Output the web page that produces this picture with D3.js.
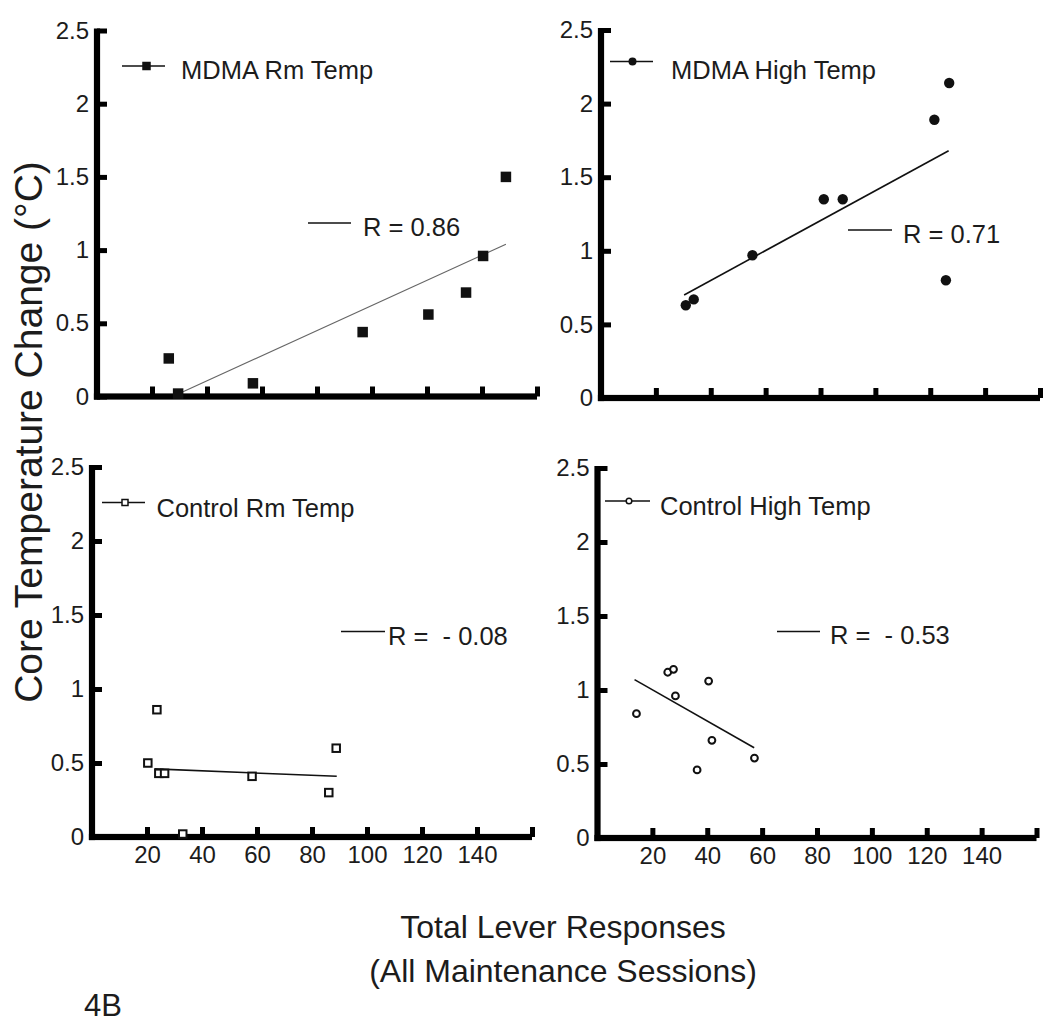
<!DOCTYPE html>
<html><head><meta charset="utf-8">
<script src="https://cdn.jsdelivr.net/npm/d3@7"></script>
<style>
body{margin:0;background:#fff}
text{font-family:"Liberation Sans",Arial,Helvetica,sans-serif;fill:#1c1c1c}
</style>
</head><body>
<svg id="c" width="1050" height="1023"></svg>
<script>
// ---------- data ----------
const xTicks = [20, 40, 60, 80, 100, 120, 140, 160];
const xTickLabels = ["20", "40", "60", "80", "100", "120", "140", ""];
const yTicks = [0, 0.5, 1, 1.5, 2, 2.5];
const yTickLabels = ["0", "0.5", "1", "1.5", "2", "2.5"];

const mdmaRmX = [26.1, 29.5, 56.7, 96.6, 120.5, 134.2, 140.4, 148.7];
const mdmaRmY = [0.26, 0.02, 0.09, 0.44, 0.56, 0.71, 0.96, 1.50];
const mdmaRmFitX = [28.7, 148.7];
const mdmaRmFitY = [0.01, 1.04];

const mdmaHighX = [30.9, 33.8, 55.2, 81.2, 88.1, 121.5, 126.9, 125.7];
const mdmaHighY = [0.63, 0.67, 0.97, 1.35, 1.35, 1.89, 2.14, 0.80];
const mdmaHighFitX = [30.3, 126.7];
const mdmaHighFitY = [0.70, 1.68];

const ctrlRmX = [20.3, 23.6, 24.3, 26.4, 33.0, 58.2, 86.1, 88.8];
const ctrlRmY = [0.50, 0.86, 0.43, 0.43, 0.02, 0.41, 0.30, 0.60];
const ctrlRmFitX = [22.7, 89.0];
const ctrlRmFitY = [0.46, 0.41];

const ctrlHighX = [14.2, 25.6, 27.7, 28.4, 40.5, 41.7, 36.3, 57.2];
const ctrlHighY = [0.84, 1.12, 1.14, 0.96, 1.06, 0.66, 0.46, 0.54];
const ctrlHighFitX = [13.5, 57.1];
const ctrlHighFitY = [1.07, 0.61];

const seriesNames = ["MDMA Rm Temp", "MDMA High Temp", "Control Rm Temp", "Control High Temp"];
const rLabels = ["R = 0.86", "R = 0.71", "R =  - 0.08", "R =  - 0.53"];

// ---------- layout ----------
const panels = [
  {xs: mdmaRmX, ys: mdmaRmY, fx: mdmaRmFitX, fy: mdmaRmFitY, marker: "fsq",
   x0: 97, x1: 537, y0: 396.5, yTop: 30.5, showX: false,
   leg: {l1: 122, l2: 165, ly: 66, mx: 146.5, tx: 181, ty: 79},
   r: {l1: 308, l2: 351, ly: 223, tx: 363, ty: 236}, fitColor: "#666", fitW: 1.1},
  {xs: mdmaHighX, ys: mdmaHighY, fx: mdmaHighFitX, fy: mdmaHighFitY, marker: "fci",
   x0: 601, x1: 1040, y0: 398, yTop: 30, showX: false,
   leg: {l1: 610, l2: 653, ly: 61.5, mx: 632.5, tx: 671, ty: 78.5},
   r: {l1: 848, l2: 892, ly: 230, tx: 903, ty: 242.5}, fitColor: "#111", fitW: 1.6},
  {xs: ctrlRmX, ys: ctrlRmY, fx: ctrlRmFitX, fy: ctrlRmFitY, marker: "osq",
   x0: 92, x1: 532, y0: 837, yTop: 467, showX: true,
   leg: {l1: 102, l2: 145, ly: 502.5, mx: 125, tx: 156.5, ty: 516.5},
   r: {l1: 341, l2: 385, ly: 631.5, tx: 388, ty: 645}, fitColor: "#111", fitW: 1.6},
  {xs: ctrlHighX, ys: ctrlHighY, fx: ctrlHighFitX, fy: ctrlHighFitY, marker: "oci",
   x0: 597.5, x1: 1036.5, y0: 838, yTop: 468, showX: true,
   leg: {l1: 605, l2: 650, ly: 501, mx: 629, tx: 660, ty: 515},
   r: {l1: 777, l2: 820, ly: 631.5, tx: 830, ty: 643.5}, fitColor: "#111", fitW: 1.6}
];

const AXW = 6.2;   // axis line thickness
const TKW = 5;     // tick thickness
const TKL = 10;    // tick length from axis centre

const svg = d3.select("#c");

function drawMarker(g, type, cx, cy, legend) {
  if (type === "fsq") {
    const s = legend ? 8.5 : 10.5;
    g.append("rect").attr("x", cx - s / 2).attr("y", cy - s / 2).attr("width", s).attr("height", s).style("fill", "#111");
  } else if (type === "fci") {
    g.append("circle").attr("cx", cx).attr("cy", cy).attr("r", legend ? 4 : 5.2).style("fill", "#111");
  } else if (type === "osq") {
    const s = legend ? 6 : 7.5;
    g.append("rect").attr("x", cx - s / 2).attr("y", cy - s / 2).attr("width", s).attr("height", s)
      .style("fill", "#fff").style("stroke", "#111").style("stroke-width", legend ? "1.5px" : "2px");
  } else {
    g.append("circle").attr("cx", cx).attr("cy", cy).attr("r", legend ? 2.8 : 3.4)
      .style("fill", "#fff").style("stroke", "#111").style("stroke-width", legend ? "1.5px" : "2px");
  }
}

panels.forEach((p, i) => {
  const x = d3.scaleLinear().domain([0, 160]).range([p.x0, p.x1]);
  const y = d3.scaleLinear().domain([0, 2.5]).range([p.y0, p.yTop]);
  const g = svg.append("g");

  // x axis: labels via d3.axis; ticks drawn as solid blocks
  const xa = d3.axisBottom(x).tickValues(xTicks).tickSizeInner(0).tickSizeOuter(0).tickPadding(9)
    .tickFormat((d, k) => p.showX ? xTickLabels[k] : "");
  const gx = g.append("g").attr("transform", `translate(0,${p.y0})`).call(xa);
  gx.select(".domain").remove();
  gx.selectAll(".tick line").remove();
  gx.selectAll(".tick").append("rect")
    .attr("x", -TKW / 2).attr("y", -TKL).attr("width", TKW).attr("height", TKL).style("fill", "#000");
  gx.selectAll(".tick text").attr("font-family", null).attr("y", 9 + 16.5).attr("dy", null)
    .style("font-size", "24px").style("fill", "#1c1c1c");

  // y axis
  const ya = d3.axisLeft(y).tickValues(yTicks).tickSizeInner(0).tickSizeOuter(0).tickPadding(8)
    .tickFormat((d, k) => yTickLabels[k]);
  const gy = g.append("g").attr("transform", `translate(${p.x0},0)`).call(ya);
  gy.select(".domain").remove();
  gy.selectAll(".tick line").remove();
  gy.selectAll(".tick").append("rect")
    .attr("x", 0).attr("y", -TKW / 2).attr("width", TKL).attr("height", TKW).style("fill", "#000");
  gy.selectAll(".tick text").attr("font-family", null).style("font-size", "24px").style("fill", "#1c1c1c");

  // thick axis lines as solid bars
  g.append("rect").attr("x", x(0) - AXW / 2).attr("y", y(0) - AXW / 2)
    .attr("width", x(160) - x(0) + AXW / 2).attr("height", AXW).style("fill", "#000");
  g.append("rect").attr("x", x(0) - AXW / 2).attr("y", y(2.5) - 2)
    .attr("width", AXW).attr("height", y(0) - y(2.5) + 2 + AXW / 2).style("fill", "#000");

  // fit line
  g.append("line")
    .attr("x1", x(p.fx[0])).attr("y1", y(p.fy[0]))
    .attr("x2", x(p.fx[1])).attr("y2", y(p.fy[1]))
    .style("stroke", p.fitColor).style("stroke-width", p.fitW + "px");

  // points
  p.xs.forEach((xv, k) => drawMarker(g, p.marker, x(xv), y(p.ys[k]), false));

  // legend
  g.append("line").attr("x1", p.leg.l1).attr("x2", p.leg.l2).attr("y1", p.leg.ly).attr("y2", p.leg.ly)
    .style("stroke", "#111").style("stroke-width", "1.6px");
  drawMarker(g, p.marker, p.leg.mx, p.leg.ly, true);
  g.append("text").attr("x", p.leg.tx).attr("y", p.leg.ty).style("font-size", "25.5px").text(seriesNames[i]);

  // R label
  g.append("line").attr("x1", p.r.l1).attr("x2", p.r.l2).attr("y1", p.r.ly).attr("y2", p.r.ly)
    .style("stroke", "#111").style("stroke-width", "1.4px");
  g.append("text").attr("x", p.r.tx).attr("y", p.r.ty).style("font-size", "25.5px")
    .style("white-space", "pre").attr("xml:space", "preserve").text(rLabels[i]);
});

// axis titles
svg.append("text").attr("transform", "translate(42,432) rotate(-90)").attr("text-anchor", "middle")
  .style("font-size", "39px").text("Core Temperature Change (°C)");
svg.append("text").attr("x", 563).attr("y", 938).attr("text-anchor", "middle").style("font-size", "32px")
  .text("Total Lever Responses");
svg.append("text").attr("x", 563).attr("y", 982).attr("text-anchor", "middle").style("font-size", "32px")
  .text("(All Maintenance Sessions)");
svg.append("text").attr("x", 84).attr("y", 1016).style("font-size", "31px").text("4B");
</script>
</body></html>
